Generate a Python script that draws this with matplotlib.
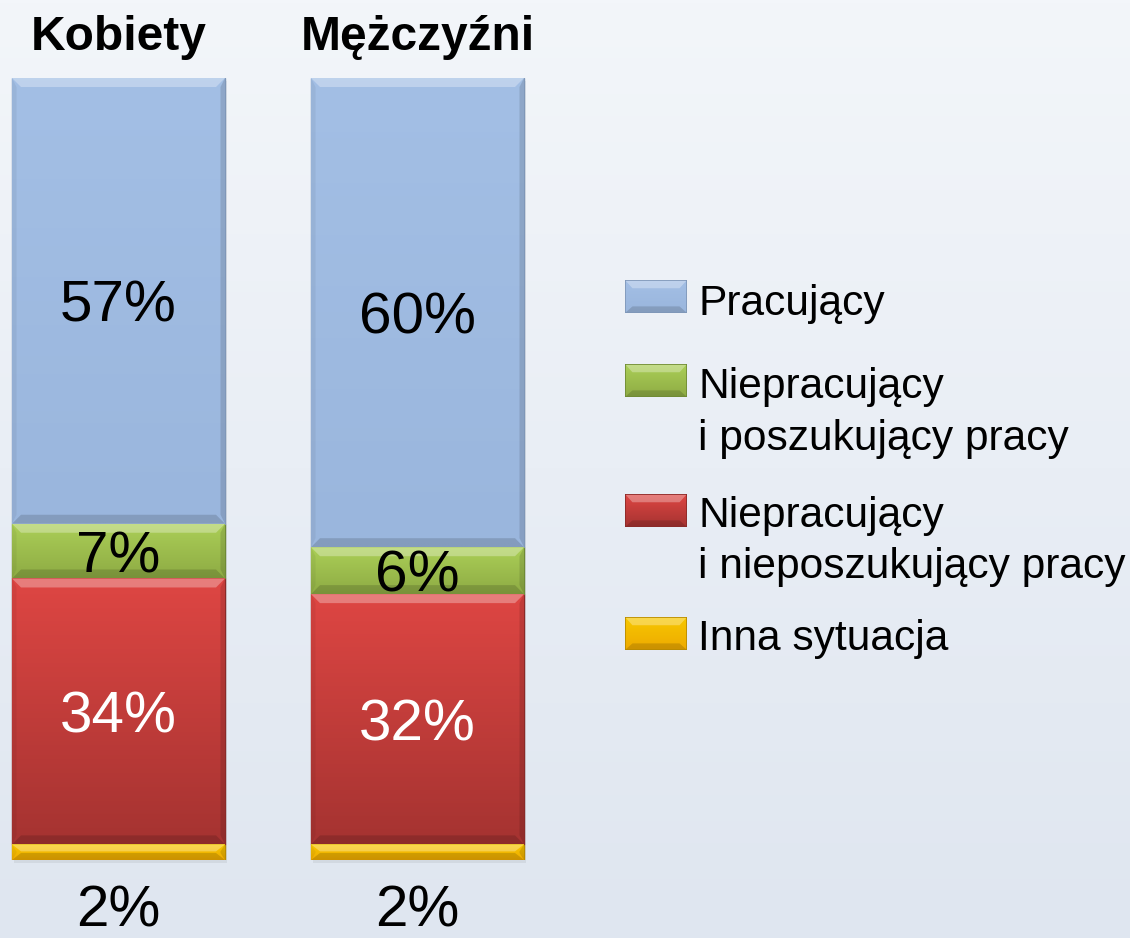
import numpy as np
import matplotlib
matplotlib.use("Agg")
import matplotlib.pyplot as plt
from matplotlib.patches import Polygon, Rectangle
from matplotlib.colors import to_rgb

plt.rcParams['font.family'] = ['Liberation Sans', 'DejaVu Sans']

# ---- data ----
groups = ["Kobiety", "Mężczyźni"]
series = ["Pracujący", "Niepracujący\ni poszukujący pracy",
          "Niepracujący\ni nieposzukujący pracy", "Inna sytuacja"]
pracujacy = [57, 60]
poszukujacy = [7, 6]
nieposzukujacy = [34, 32]
inna = [2, 2]
values = [pracujacy, poszukujacy, nieposzukujacy, inna]

# ---- style ----
top_colors = ["#a3bfe5", "#abcf57", "#de4643", "#f7c800"]
bot_colors = ["#9ab6dd", "#8eab44", "#a53331", "#eeaa00"]
edge_colors = ["#7f97b8", "#6f8a35", "#8a2a28", "#b88a00"]
label_colors = ["black", "black", "white", None]

W, H = 1130, 938
fig = plt.figure(figsize=(W / 100, H / 100), dpi=100)

# background gradient
bg = fig.add_axes([0, 0, 1, 1], zorder=-10)
grad = np.linspace(0, 1, 256).reshape(-1, 1)
c_top = np.array(to_rgb("#f3f6fa"))
c_bot = np.array(to_rgb("#dfe6f0"))
img = c_top[None, None, :] * (1 - grad[..., None]) + c_bot[None, None, :] * grad[..., None]
bg.imshow(img, aspect='auto', extent=[0, 1, 0, 1], origin='upper')
bg.set_axis_off()

# main axes (pixel-aligned)
ax_left, ax_right = 0, 560
ax_top, ax_bot = 78, 860
ax = fig.add_axes([ax_left / W, (H - ax_bot) / H, (ax_right - ax_left) / W,
                   (ax_bot - ax_top) / H])
ax.patch.set_alpha(0)
x = np.arange(len(groups))
pitch = 299.0
width = 213.0 / pitch
ax.set_xlim(-118.5 / pitch, (560 - 118.5) / pitch)
ax.set_ylim(0, 100)
ax.set_axis_off()

px_x = 1.0 / pitch          # data units per pixel (x)
px_y = 100.0 / (ax_bot - ax_top)  # data units per pixel (y)

# stack from bottom: inna, nieposzukujacy, poszukujacy, pracujacy
order = [3, 2, 1, 0]
bottom = np.zeros(len(groups))
for k in order:
    vals = np.array(values[k], dtype=float)
    bars = ax.bar(x, vals, width=width, bottom=bottom, color=top_colors[k],
                  edgecolor=edge_colors[k], linewidth=1.0, zorder=2)
    for j, b in enumerate(bars):
        x0, y0 = b.get_x(), b.get_y()
        w, h = b.get_width(), b.get_height()
        x1, y1 = x0 + w, y0 + h
        # vertical gradient
        g = np.linspace(0, 1, 64).reshape(-1, 1)
        ct = np.array(to_rgb(top_colors[k]))
        cb = np.array(to_rgb(bot_colors[k]))
        gi = ct[None, None, :] * (1 - g[..., None]) + cb[None, None, :] * g[..., None]
        im = ax.imshow(gi, aspect='auto', extent=[x0, x1, y0, y1],
                       origin='upper', zorder=2.1, interpolation='bilinear')
        im.set_clip_path(b)
        # bevel
        s = 9 * px_x
        t = min(9 * px_y, h * 0.45)
        ax.add_patch(Polygon([(x0, y1), (x1, y1), (x1 - s, y1 - t), (x0 + s, y1 - t)],
                             closed=True, facecolor='white', alpha=0.3,
                             edgecolor='none', zorder=2.2))
        ax.add_patch(Polygon([(x0, y0), (x1, y0), (x1 - s, y0 + t), (x0 + s, y0 + t)],
                             closed=True, facecolor='black', alpha=0.14,
                             edgecolor='none', zorder=2.2))
        ax.add_patch(Polygon([(x1, y0), (x1, y1), (x1 - s * 0.5, y1 - t), (x1 - s * 0.5, y0 + t)],
                             closed=True, facecolor='black', alpha=0.12,
                             edgecolor='none', zorder=2.2))
        ax.add_patch(Polygon([(x0, y0), (x0, y1), (x0 + s * 0.5, y1 - t), (x0 + s * 0.5, y0 + t)],
                             closed=True, facecolor='black', alpha=0.05,
                             edgecolor='none', zorder=2.2))
        # shadow
        ax.add_patch(Rectangle((x0 + 2 * px_x, y0 - 3 * px_y), w, h, facecolor='black',
                               alpha=0.06, edgecolor='none', zorder=1.5, clip_on=False))
        # labels
        txt = f"{int(vals[j])}%"
        if label_colors[k] is None:
            ax.text(x[j], -(926 - ax_bot) * px_y, txt, ha='center', va='baseline',
                    fontsize=42, color='black', clip_on=False, zorder=5)
        else:
            ax.text(x[j], y0 + h / 2, txt, ha='center', va='center_baseline',
                    fontsize=42, color=label_colors[k], zorder=5)
    bottom = bottom + vals

# group titles
for j, g in enumerate(groups):
    ax.text(x[j], 100 + 28 * px_y, g, ha='center', va='baseline',
            fontsize=34.5, fontweight='bold', color='black', clip_on=False)

# legend (manual)
leg_x0, leg_w, leg_h = 625, 62, 33
patch_tops = [280, 364, 494, 617]
text_baselines = [[315], [398, 450], [527, 578], [650]]
for k in range(4):
    py = patch_tops[k]
    lax = fig.add_axes([leg_x0 / W, (H - py - leg_h) / H, leg_w / W, leg_h / H])
    lax.set_xlim(0, 1)
    lax.set_ylim(0, 1)
    lax.set_axis_off()
    g = np.linspace(0, 1, 32).reshape(-1, 1)
    ct = np.array(to_rgb(top_colors[k]))
    cb = np.array(to_rgb(bot_colors[k]))
    gi = ct[None, None, :] * (1 - g[..., None]) + cb[None, None, :] * g[..., None]
    lax.imshow(gi, aspect='auto', extent=[0, 1, 0, 1], origin='upper')
    lax.add_patch(Polygon([(0, 1), (1, 1), (0.88, 0.75), (0.12, 0.75)], closed=True,
                          facecolor='white', alpha=0.3, edgecolor='none'))
    lax.add_patch(Polygon([(0, 0), (1, 0), (0.88, 0.2), (0.12, 0.2)], closed=True,
                          facecolor='black', alpha=0.14, edgecolor='none'))
    lax.add_patch(Rectangle((0, 0), 1, 1, facecolor='none', edgecolor=edge_colors[k],
                            linewidth=1.2))
    lines = series[k].split("\n")
    for line, bl in zip(lines, text_baselines[k]):
        fig.text(698 / W, (H - bl) / H, line, ha='left', va='baseline',
                 fontsize=30.6, color='black')

fig.savefig("out.png", dpi=100)
